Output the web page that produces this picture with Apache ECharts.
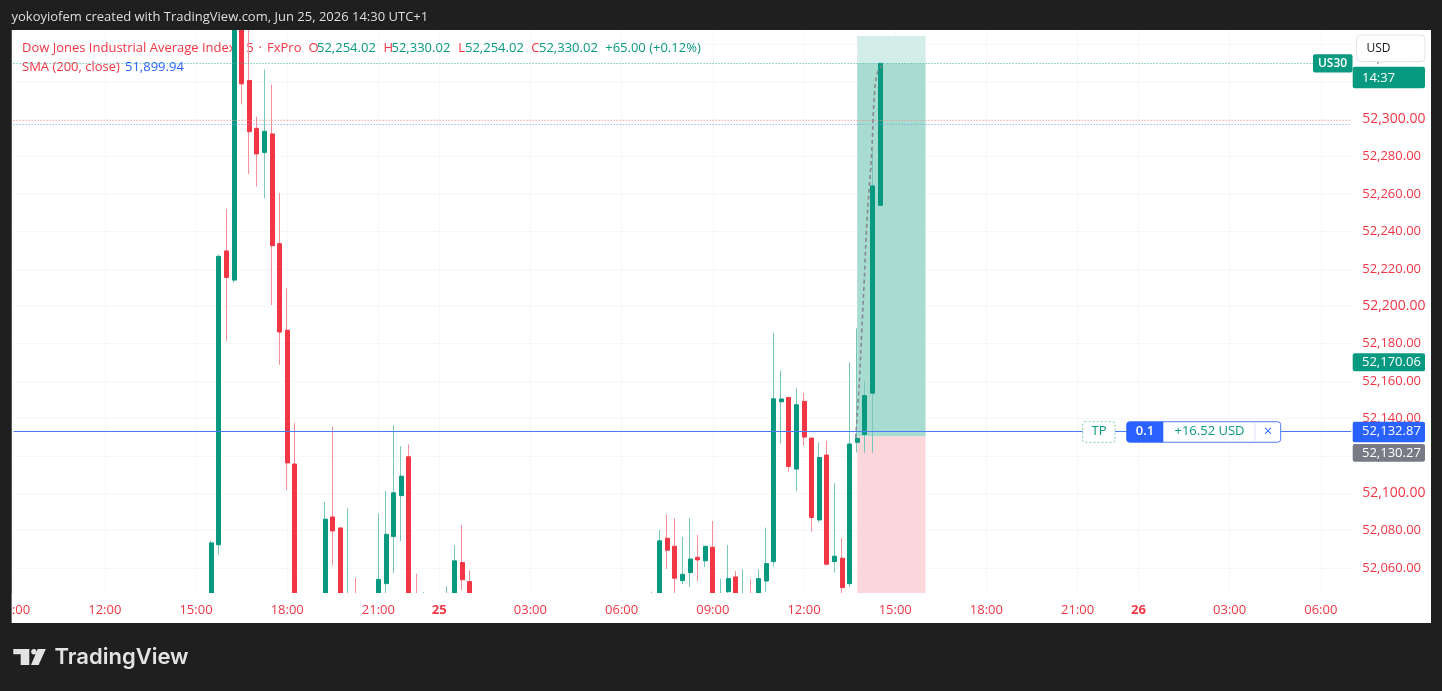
<!DOCTYPE html>
<html>
<head>
<meta charset="utf-8">
<script src="https://cdn.jsdelivr.net/npm/echarts@6/dist/echarts.min.js"></script>
<style>
html,body{margin:0;padding:0;background:#1f1f1f;}
#c{width:1442px;height:691px;}
</style>
</head>
<body>
<div id="c"></div>
<script>
// ---------- time axis (15-minute bars, trading sessions) ----------
const sessionDays   = ['24', '25', '26'];
const sessionStarts = [540, 0, 0];      // minutes after midnight
const sessionBars   = [56, 92, 29];
const xTickTimes    = ['09:00', '12:00', '15:00', '18:00', '21:00', '00:00', '03:00', '06:00'];

// ---------- price axis ----------
const yMin = 52046.6;
const yMax = 52347.8;
const yTicks = [52060, 52080, 52100, 52120, 52140, 52160, 52180, 52200, 52220, 52240, 52260, 52280, 52300, 52320, 52340];

// ---------- candles (first visible bar index, then OHLC; null = outside the visible price window) ----------
const firstBar = 26;
const opens = [
  52030, 52072.4, 52229.6, 52214.0, 52385, 52320.8, 52295.2, 52282.3, 52292.2, 52233.5, 52187.2, 52115.6,
  null, null, null,
  52030, 52087.3, 52081.4, 52030, 52040,
  null, null,
  52035, 52051.6, 52076.8, 52098.7, 52119.5, 52040, 52036,
  null, null,
  52036, 52040, 52062.9, 52052.7,
  null, null, null, null, null, null, null, null, null, null, null, null, null, null, null, null, null, null, null, null, null, null, null,
  52035, 52040, 52075.9, 52071.6, 52053.2, 52057.5, 52065.7, 52063.8, 52071.1, 52044, 52047.3, 52055.2, 52040, 52046.5, 52040, 52053.0,
  52063.4, 52148.9, 52151.2, 52112.9, 52149.1, 52129.5, 52085.7, 52120.4, 52063.4, 52065.2, 52051.6, 52127.2, 52131.4, 52153.5, 52254.02
];
const closes = [
  52073.4, 52226.7, 52215.4, 52385, 52319.0, 52293.4, 52281.5, 52293.6, 52232.4, 52186.2, 52116.2, 52030,
  null, null, null,
  52086.1, 52079.8, 52030, 52040, 52035,
  null, null,
  52053.9, 52078.0, 52100.2, 52109.1, 52035, 52036, 52040,
  null, null,
  52042, 52063.8, 52053.7, 52035,
  null, null, null, null, null, null, null, null, null, null, null, null, null, null, null, null, null, null, null, null, null, null, null,
  52040, 52074.5, 52069.5, 52054.5, 52056.6, 52064.8, 52064.3, 52071.6, 52035, 52046.5, 52054.3, 52040, 52044, 52044, 52054.3, 52062.3,
  52150.5, 52150.4, 52114.3, 52147.3, 52130.0, 52087.0, 52119.1, 52062.0, 52066.3, 52049.5, 52126.3, 52129.4, 52152.2, 52264.4, 52330.02
];
const lows = [
  52020, 52067.2, 52181.3, 52212.5, 52308.0, 52270.8, 52264.0, 52257.8, 52200.7, 52168.7, 52101.6, 52020,
  null, null, null,
  52025, 52061.4, 52025, 52025, 52030,
  null, null,
  52030, 52040, 52057.2, 52074.3, 52030, 52030, 52030,
  null, null,
  52030, 52035, 52048.2, 52030,
  null, null, null, null, null, null, null, null, null, null, null, null, null, null, null, null, null, null, null, null, null, null, null,
  52030, 52035, 52059.5, 52040, 52051.4, 52049.8, 52053.0, 52060.5, 52030, 52040, 52045, 52035, 52035, 52040, 52035, 52047.3,
  52060.7, 52126.6, 52111.6, 52101.2, 52125.4, 52079.5, 52084.5, 52061.4, 52057.5, 52044, 52049.8, 52121.7, 52121.6, 52121.6, 52254.02
];
const highs = [
  52074.5, 52227.7, 52252.0, 52395, 52395, 52352, 52301.4, 52326.7, 52318.5, 52260.6, 52209.6, 52137.6,
  null, null, null,
  52095.4, 52135.5, 52081.4, 52092.0, 52054.8,
  null, null,
  52089.1, 52101.2, 52136.4, 52125.1, 52126.1, 52057.0, 52047.1,
  null, null,
  52050.2, 52072.2, 52083.0, 52058.8,
  null, null, null, null, null, null, null, null, null, null, null, null, null, null, null, null, null, null, null, null, null, null, null,
  52047.3, 52080.5, 52088.7, 52086.6, 52076.6, 52086.6, 52077.7, 52071.6, 52085.2, 52054.3, 52072.3, 52058.4, 52059.3, 52054.0, 52059.3, 52081.6,
  52185.9, 52165.5, 52151.2, 52156.3, 52153.6, 52129.5, 52127.3, 52128.0, 52105.4, 52076.2, 52170.0, 52188.2, 52160.0, 52283.1, 52330.02
];

// ---------- price lines / position tool ----------
const lastPrice   = 52330.02;
const tpPrice     = 52132.87;
const entryPrice  = 52130.27;
const markPrice   = 52170.06;
const targetPrice = 52344.6;
const pinkLevel   = 52299.4;
const blueLevel   = 52297.3;
const toolStart   = 111;
const toolEnd     = 120;
const pathX = [110.8, 111.3, 111.6, 111.9, 112.3, 112.9, 113.2, 113.6, 114.2];
const pathP = [52129.8, 52160.9, 52186.4, 52211.6, 52246.5, 52281.5, 52308.8, 52324.3, 52328.4];

// ---------- build ----------
const RED = '#f23645', GREEN = '#089981', BLUE = '#2962ff';
const FONT = '"Open Sans", "Noto Sans", sans-serif';
const pad2 = n => String(n).padStart(2, '0');
const categories = [];
sessionDays.forEach((d, s) => {
  for (let k = 0; k < sessionBars[s]; k++) {
    const m = sessionStarts[s] + 15 * k;
    categories.push(d + ' ' + pad2(Math.floor(m / 60)) + ':' + pad2(m % 60));
  }
});
const EMPTY = ['-', '-', '-', '-'];
const wickData = categories.map((c, i) => {
  const k = i - firstBar;
  if (k < 0 || k >= opens.length || opens[k] == null) return EMPTY;
  return [opens[k], closes[k], lows[k], highs[k]];
});
const bodyData = categories.map((c, i) => {
  const k = i - firstBar;
  if (k < 0 || k >= opens.length || opens[k] == null) return EMPTY;
  return [opens[k], closes[k], Math.min(opens[k], closes[k]), Math.max(opens[k], closes[k])];
});
const pathData = pathX.map((x, i) => [x, pathP[i]]);
const fmt = v => Number(v).toLocaleString('en-US', {minimumFractionDigits: 2, maximumFractionDigits: 2});
const showX = (i, v) => xTickTimes.indexOf(v.slice(3)) >= 0;

const chart = echarts.init(document.getElementById('c'), null, {renderer: 'canvas'});
chart.setOption({
  animation: false,
  backgroundColor: '#1f1f1f',
  grid: {left: 13.6, right: 90.8, top: 30, bottom: 98, containLabel: false, outerBoundsMode: 'none'},
  xAxis: [{
    // grid lines only
    type: 'category', data: categories, boundaryGap: false,
    axisLine: {show: false}, axisTick: {show: false}, axisLabel: {show: false},
    splitLine: {show: true, interval: showX, lineStyle: {color: '#f7f7f7', width: 1}}
  }, {
    type: 'value', min: 0, max: categories.length - 1, show: false
  }, {
    // time labels, drawn above the time-scale strip
    type: 'category', data: categories, boundaryGap: false, position: 'bottom', offset: 0, z: 20,
    axisLine: {show: false}, axisTick: {show: false}, splitLine: {show: false},
    axisLabel: {
      interval: showX, margin: 11, color: RED, fontFamily: FONT, fontSize: 13,
      formatter: v => v.slice(3) === '00:00' ? '{d|' + v.slice(0, 2) + '}' : v.slice(3),
      rich: {d: {fontWeight: 'bold', color: RED, fontFamily: FONT, fontSize: 13}}
    }
  }],
  yAxis: {
    type: 'value', position: 'right', min: yMin, max: yMax,
    axisLine: {show: false},
    axisTick: {show: false, customValues: yTicks},
    axisLabel: {
      customValues: yTicks, align: 'left', margin: 11, color: RED, fontFamily: FONT, fontSize: 13,
      formatter: v => (Math.round(v) % 100 === 0 ? '{b|' + fmt(v) + '}' : fmt(v)),
      rich: {b: {color: RED, fontFamily: FONT, fontSize: 14, fontWeight: 500}}
    },
    splitLine: {show: true, lineStyle: {color: '#f7f7f7', width: 1}}
  },
  series: [{
    type: 'candlestick', name: 'wicks', data: wickData, barWidth: 1, z: 2,
    itemStyle: {color: '#78c8b9', color0: '#f58f98', borderColor: '#78c8b9', borderColor0: '#f58f98', borderWidth: 1}
  }, {
    type: 'candlestick', name: 'US30', data: bodyData, barWidth: 4.5, z: 3,
    itemStyle: {color: GREEN, color0: RED, borderColor: GREEN, borderColor0: RED, borderWidth: 1},
    markArea: {
      silent: true,
      data: [
        [{xAxis: categories[toolStart], yAxis: lastPrice, itemStyle: {color: '#d3ede8'}}, {xAxis: categories[toolEnd], yAxis: targetPrice}],
        [{xAxis: categories[toolStart], yAxis: entryPrice, itemStyle: {color: '#a8dcd1'}}, {xAxis: categories[toolEnd], yAxis: lastPrice}],
        [{xAxis: categories[toolStart], yAxis: yMin, itemStyle: {color: '#fbd7db'}}, {xAxis: categories[toolEnd], yAxis: entryPrice}]
      ]
    },
    markLine: {
      silent: true, symbol: ['none', 'none'], label: {show: false},
      data: [
        {yAxis: lastPrice, lineStyle: {color: '#3fb3a0', type: [1, 2], width: 1}},
        {yAxis: pinkLevel, lineStyle: {color: '#f38b95', type: [1, 2], width: 1}},
        {yAxis: blueLevel, lineStyle: {color: '#7d9cf6', type: [1, 2], width: 1}},
        {yAxis: tpPrice, lineStyle: {color: '#4a7bf7', type: 'solid', width: 1.2}}
      ]
    }
  }, {
    type: 'line', xAxisIndex: 1, yAxisIndex: 0, data: pathData, smooth: 0.4, symbol: 'none', z: 4,
    lineStyle: {color: '#868993', type: [4, 3], width: 1.6}
  }]
});

// ---------- annotations ----------
const py = p => chart.convertToPixel({yAxisIndex: 0}, p);
const rect = (x, y, w, h, fill, o) => {
  o = o || {};
  return {type: 'rect', z: o.z || 100, silent: true, shape: {x: x, y: y, width: w, height: h, r: o.r || 0},
    style: {fill: fill, stroke: o.stroke || null, lineWidth: o.lw || 1, lineDash: o.dash || null}};
};
const txt = (x, y, s, fill, size, weight, align, z, family) => ({
  type: 'text', z: z || 101, silent: true,
  style: {x: x, y: y, text: s, fill: fill, font: (weight || 'normal') + ' ' + size + 'px ' + (family || FONT),
    align: align || 'left', verticalAlign: 'middle', textAlign: align || 'left', textVerticalAlign: 'middle'}
});
const DARK = '#1f1f1f';
const lp = py(lastPrice), tp = py(tpPrice), mp = py(markPrice);
const gridBottom = py(yMin);
const g = [
  // white chart panel
  rect(11.5, 30, 1419.5, 593, '#ffffff', {z: -1}),
  // time-scale strip (hides the parts of candles below the price window)
  rect(11.5, gridBottom, 1419.5, 623 - gridBottom, '#ffffff', {z: 10}),
  // legend (under the candles)
  txt(22, 48, 'Dow Jones Industrial Average Index', RED, 13, 'normal', 'left', 1),
  txt(234, 48, '·', RED, 13, 'normal', 'center', 1),
  txt(238.7, 48, '15', RED, 13, 'normal', 'left', 1),
  txt(260.3, 48, '·', RED, 13, 'normal', 'center', 1),
  txt(267, 48, 'FxPro', RED, 13, 'normal', 'left', 1),
  txt(308.5, 48, 'O', RED, 13, 'normal', 'left', 1), txt(317, 48, '52,254.02', GREEN, 13, 'normal', 'left', 1),
  txt(383.4, 48, 'H', RED, 13, 'normal', 'left', 1), txt(391.5, 48, '52,330.02', GREEN, 13, 'normal', 'left', 1),
  txt(458.2, 48, 'L', RED, 13, 'normal', 'left', 1), txt(465, 48, '52,254.02', GREEN, 13, 'normal', 'left', 1),
  txt(531.2, 48, 'C', RED, 13, 'normal', 'left', 1), txt(539, 48, '52,330.02', GREEN, 13, 'normal', 'left', 1),
  txt(605.2, 48, '+65.00 (+0.12%)', GREEN, 13, 'normal', 'left', 1),
  txt(22, 67, 'SMA (200, close)', RED, 13, 'normal', 'left', 1),
  txt(125, 67, '51,899.94', BLUE, 13, 'normal', 'left', 1),
  // outer dark frame
  rect(0, 0, 11.5, 691, DARK, {z: 50}), rect(1431, 0, 11, 691, DARK, {z: 50}),
  rect(0, 0, 1442, 30, DARK, {z: 50}), rect(0, 623, 1442, 68, DARK, {z: 50}),
  txt(11.5, 17, 'yokoyiofem created with TradingView.com, Jun 25, 2026 14:30 UTC+1', '#dedede', 13, 'normal', 'left', 60),
  // TradingView logo
  {type: 'polygon', z: 60, silent: true, shape: {points: [[13.3, 649], [29.3, 649], [29.3, 665], [20.7, 665], [20.7, 654.3], [13.3, 654.3]]}, style: {fill: '#e3e3e3'}},
  {type: 'circle', z: 60, silent: true, shape: {cx: 33.9, cy: 651.7, r: 2.7}, style: {fill: '#e3e3e3'}},
  {type: 'polygon', z: 60, silent: true, shape: {points: [[37.7, 649], [45.8, 649], [38.6, 665], [31.0, 665]]}, style: {fill: '#e3e3e3'}},
  txt(54.5, 657.5, 'TradingView', '#e3e3e3', 22, '600', 'left', 60, 'Inter, "Open Sans", sans-serif'),
  // price-axis labels
  rect(1352.7, mp - 9, 72.3, 18, GREEN, {r: 2}), txt(1362, mp, fmt(markPrice), '#ffffff', 13),
  rect(1352.7, tp - 10, 72.3, 20.5, BLUE, {r: 2}), txt(1362, tp, fmt(tpPrice), '#ffffff', 13),
  rect(1352.7, tp + 12.2, 72.3, 17.8, '#787b86', {r: 2}), txt(1362, tp + 21.1, fmt(entryPrice), '#ffffff', 13),
  txt(1362, lp - 5, fmt(lastPrice), '#5d606b', 13),
  rect(1352.7, lp + 3.4, 72.3, 21.6, GREEN, {r: 2}),
  txt(1362, lp + 15, '14:37', '#ffffff', 13),
  rect(1313, lp - 9, 39.5, 18.3, GREEN, {r: 2}), txt(1332.5, lp, 'US30', '#ffffff', 12, '600', 'center'),
  rect(1356.7, 35, 68.3, 26.7, '#ffffff', {r: 4, stroke: '#e0e3eb', z: 102}), txt(1366.5, 48.5, 'USD', '#131722', 12, 'normal', 'left', 103),
  // TP order widget
  rect(1082.7, tp - 10, 32.3, 20.5, '#ffffff', {r: 2, stroke: '#7fcbbd', dash: [2, 2]}), txt(1099, tp, 'TP', GREEN, 13, 'normal', 'center'),
  rect(1126.7, tp - 10, 154, 20.5, '#ffffff', {r: 3, stroke: '#4f7df7'}),
  rect(1126.7, tp - 10, 36.6, 20.5, BLUE, {r: [3, 0, 0, 3]}), txt(1145, tp, '0.1', '#ffffff', 13, '600', 'center', 102),
  {type: 'line', z: 101, silent: true, shape: {x1: 1255, y1: tp - 9, x2: 1255, y2: tp + 9.5}, style: {stroke: '#dfe5fb', lineWidth: 1}},
  txt(1209.5, tp, '+16.52 USD', GREEN, 13, 'normal', 'center', 102),
  txt(1268, tp, '×', BLUE, 14, 'normal', 'center', 102)
];
chart.setOption({graphic: {elements: g}});
</script>
</body>
</html>
